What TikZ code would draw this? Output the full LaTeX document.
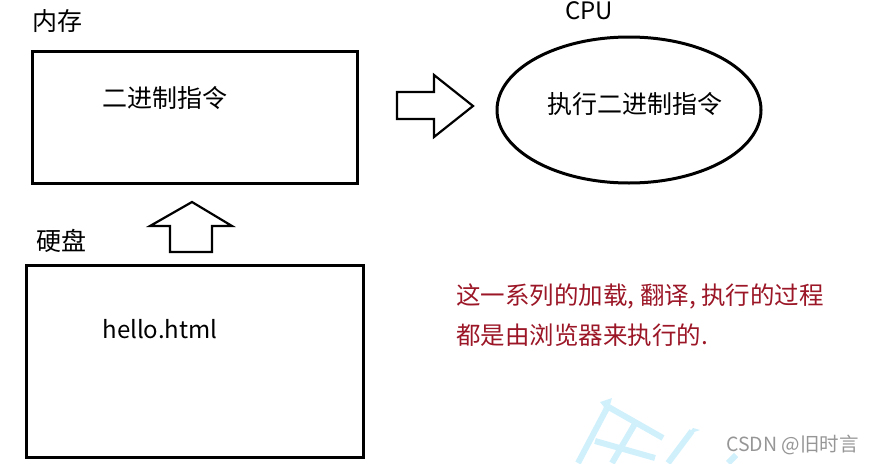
\documentclass[tikz,border=0pt]{standalone}
\usepackage{fontspec}
\setmainfont{Noto Sans CJK SC}
\usetikzlibrary{shapes.geometric}
\definecolor{noteRed}{RGB}{155,22,38}
\definecolor{wmBlue}{RGB}{208,240,252}
\definecolor{wmGrey}{RGB}{150,150,150}
\tikzset{
  box/.style={draw=black, line width=3pt, minimum width=#1, inner sep=0pt},
  blockarrow/.style={draw=black, line width=2.2pt, line join=miter, fill=white},
  lbl/.style={font=\fontsize{25}{30}\selectfont, inner sep=0pt},
  note/.style={font=\fontsize{24.5}{30}\selectfont, text=noteRed, inner sep=0pt, anchor=west},
  wm/.style={draw=wmBlue, line width=6pt},
}
\begin{document}
\begin{tikzpicture}[x=1pt,y=-1pt]
\useasboundingbox (0,0) rectangle (875,463);
% watermark sketch
\draw[wm] (605,405) -- (663,438);
\draw[wm] (607,408) -- (578,463);
\draw[wm] (636,422) -- (612,463);
\draw[wm] (595,441) -- (655,458);
\draw[wm] (692,431) -- (668,463);
\fill[wmBlue] (600,402) -- (612,398) -- (608,412) -- cycle;
\fill[wmBlue] (688,434) -- (693,428) -- (700,430) -- cycle;
\draw[wm] (736,455) -- (728,463);
% memory
\node[box=325pt, minimum height=132pt] (mem) at (194.5,117) {};
\node[lbl] (memlbl) at (57,21) {内存};
\node[lbl] (memtxt) at (165,98) {二进制指令};
% disk
\node[box=337pt, minimum height=192pt] (disk) at (194.5,361) {};
\node[lbl] (disklbl) at (61,241) {硬盘};
\node[font=\fontsize{24}{28}\selectfont, inner sep=0pt] (disktxt) at (160,329) {hello.html};
% CPU
\node[draw=black, line width=3pt, ellipse, minimum width=264pt, minimum height=146pt, inner sep=0pt] (cpu) at (629,110) {};
\node[font=\fontsize{24}{28}\selectfont, inner sep=0pt] (cpulbl) at (589,11) {CPU};
\node[lbl] (cputxt) at (635,104) {执行二进制指令};
% block arrows
\draw[blockarrow] (397,92) -- (434,92) -- (434,75) -- (473,106) -- (434,137) -- (434,119) -- (397,119) -- cycle;
\draw[blockarrow] (170,252) -- (170,226) -- (150,226) -- (192,202) -- (232,226) -- (212,226) -- (212,252) -- cycle;
% note
\node[note] (note1) at (456,296) {这一系列的加载, 翻译, 执行的过程};
\node[note] (note2) at (456,335) {都是由浏览器来执行的.};
% CSDN mark
\node[font=\fontsize{19.5}{22}\selectfont, text=wmGrey, inner sep=0pt, anchor=east] (csdn) at (859,445) {CSDN @旧时言};
\end{tikzpicture}
\end{document}
